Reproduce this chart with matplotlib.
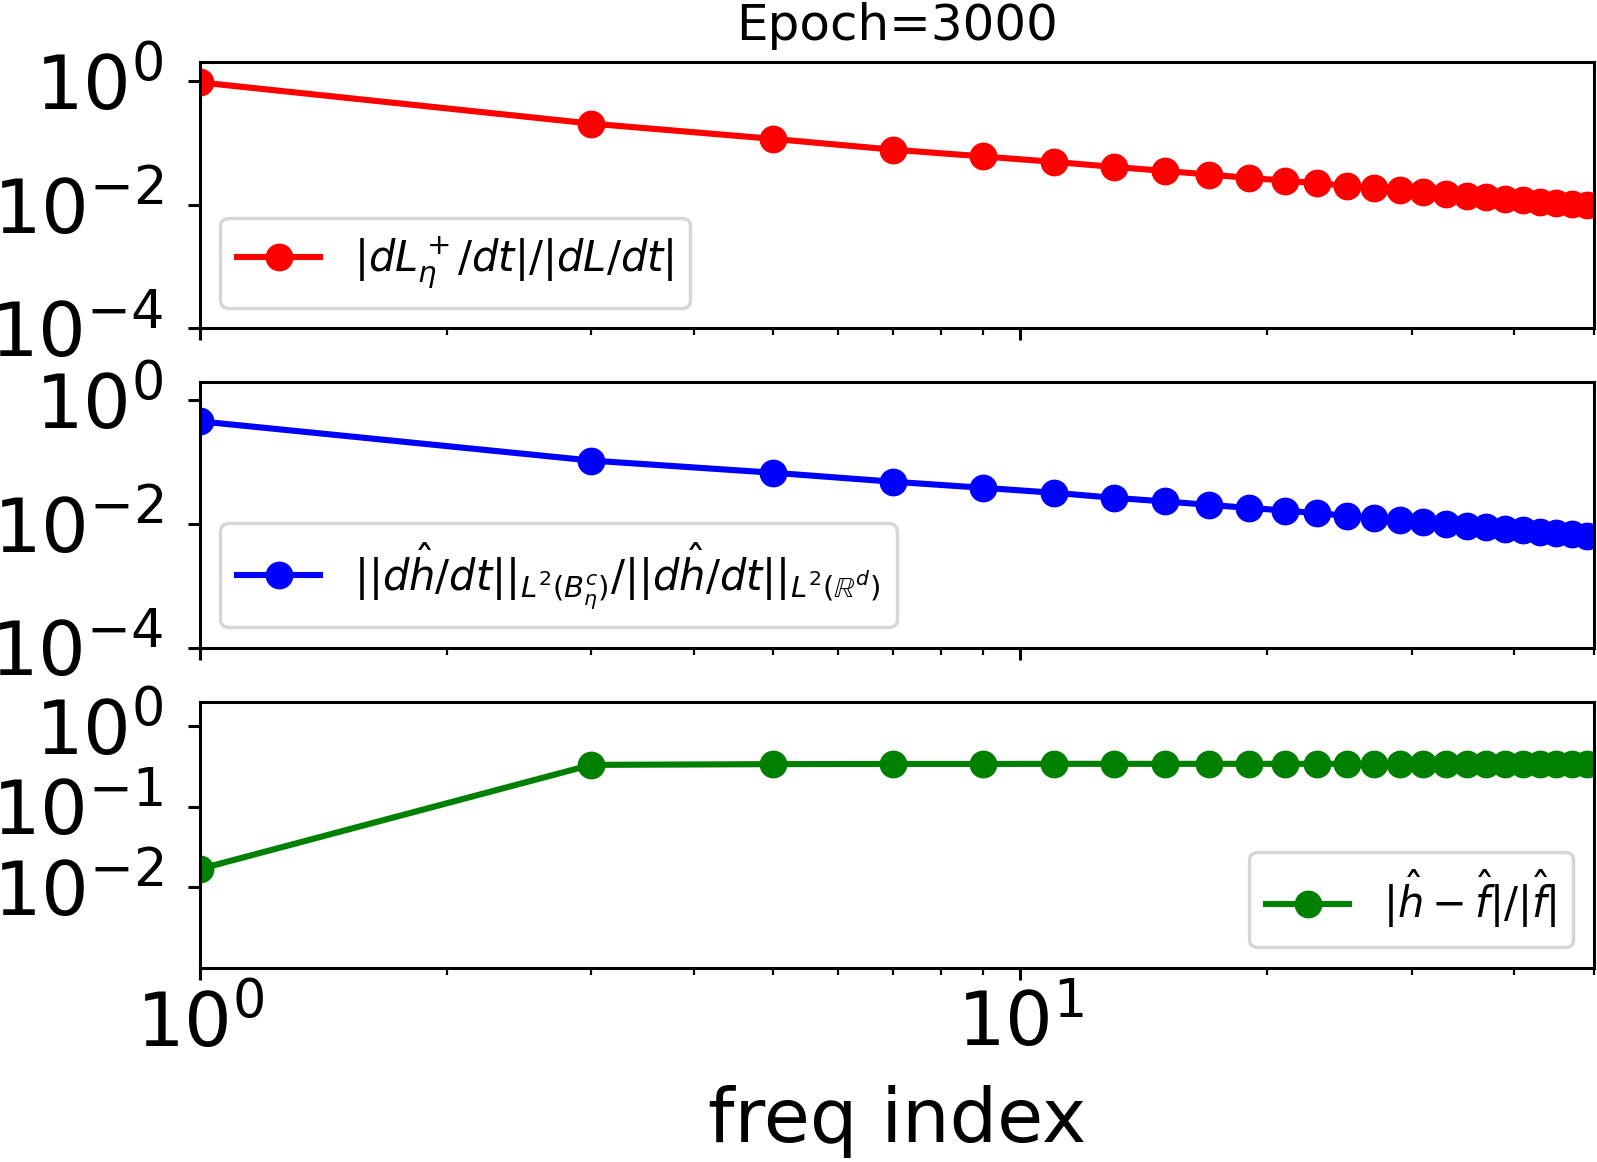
import matplotlib
matplotlib.use('Agg')
import matplotlib.pyplot as plt
import matplotlib.ticker as mticker
import numpy as np

# odd frequency indices
freq = [1, 3, 5, 7, 9, 11, 13, 15, 17, 19, 21, 23, 25, 27, 29,
        31, 33, 35, 37, 39, 41, 43, 45, 47, 49]

# |dL_eta^+/dt| / |dL/dt|
ratio_loss = [0.94, 0.203, 0.115, 0.077, 0.060, 0.0489, 0.0406, 0.0350, 0.0305,
              0.0270, 0.0244, 0.0221, 0.0202, 0.0186, 0.0173, 0.0160, 0.0150,
              0.0140, 0.0131, 0.0125, 0.0117, 0.0112, 0.0106, 0.0103, 0.0097]

# ||dh/dt||_{L2(B^c)} / ||dh/dt||_{L2(R^d)}
ratio_grad = [0.46, 0.107, 0.068, 0.0487, 0.0389, 0.0323, 0.0268, 0.0234, 0.0206,
              0.0184, 0.0167, 0.0151, 0.0138, 0.0127, 0.0117, 0.0109, 0.0103,
              0.0095, 0.0089, 0.0085, 0.0080, 0.0076, 0.0072, 0.0069, 0.0065]

# |h - f| / |f|
rel_err = [0.0168, 0.328, 0.335, 0.337, 0.337, 0.338, 0.338, 0.338, 0.338,
           0.338, 0.338, 0.338, 0.338, 0.338, 0.338, 0.338, 0.338, 0.338,
           0.338, 0.338, 0.338, 0.338, 0.338, 0.338, 0.338]

labels = [r'$|dL_\eta^+/dt|/|dL/dt|$',
          r'$||d\hat{h}/dt||_{L^2(B_\eta^c)}/||d\hat{h}/dt||_{L^2(\mathbb{R}^d)}$',
          r'$|\hat{h}-\hat{f}|/|\hat{f}|$']

fig, axes = plt.subplots(3, 1, sharex=True, figsize=(15.97, 11.62), dpi=100)
fig.subplots_adjust(left=0.125, right=0.998, top=0.9466, bottom=0.167, hspace=0.2)

series = [ratio_loss, ratio_grad, rel_err]
colors = ['r', 'b', 'g']
ylims = [(1e-4, 2), (1e-4, 2), (1e-3, 2)]
yticks = [[1e-4, 1e-2, 1e0], [1e-4, 1e-2, 1e0], [1e-2, 1e-1, 1e0]]
locs = ['lower left', 'lower left', 'lower right']

for ax, y, c, yl, yt, lab, loc in zip(axes, series, colors, ylims, yticks, labels, locs):
    ax.plot(freq, y, '-o', color=c, lw=4.4, ms=19, label=lab)
    ax.set_xscale('log')
    ax.set_yscale('log')
    ax.set_ylim(*yl)
    ax.set_yticks(yt)
    ax.yaxis.set_minor_locator(mticker.NullLocator())
    ax.tick_params(axis='both', which='major', labelsize=54, length=8.5, width=2.2, pad=7)
    ax.tick_params(axis='y', which='major', pad=18)
    ax.tick_params(axis='x', which='minor', length=5, width=1.6)
    for s in ax.spines.values():
        s.set_linewidth(2.2)
    leg = ax.legend(loc=loc, fontsize=30)
    leg.get_frame().set_linewidth(2.5)

axes[0].set_xlim(1, 50)
axes[0].set_title('Epoch=3000', fontsize=36, pad=16)
axes[-1].set_xlabel('freq index', fontsize=54, labelpad=16)

plt.savefig('out.png', dpi=100)
